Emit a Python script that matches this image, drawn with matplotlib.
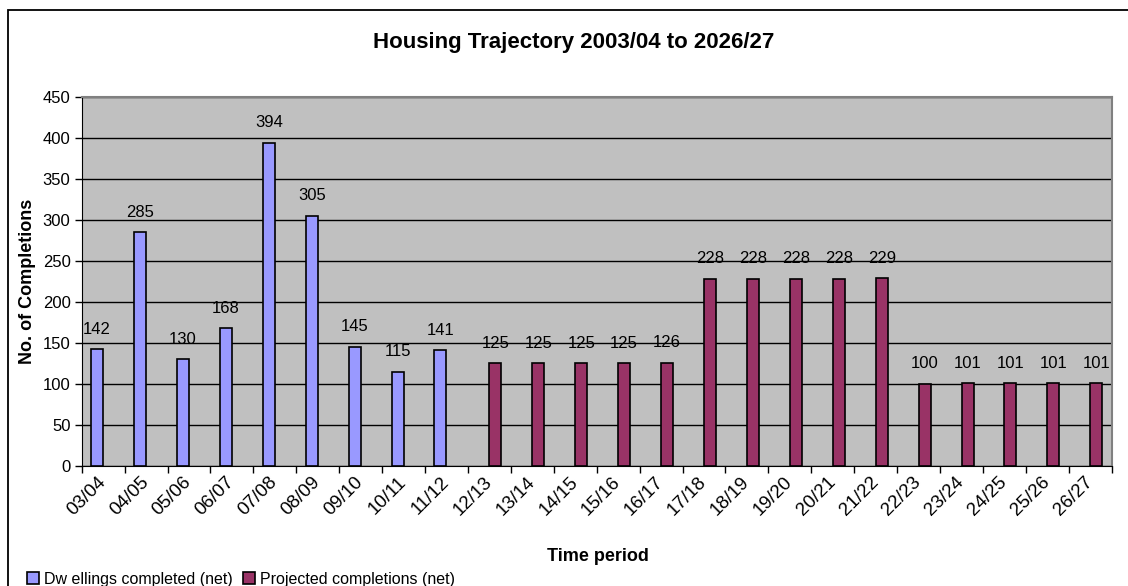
import numpy as np
import matplotlib
matplotlib.use("Agg")
import matplotlib.pyplot as plt
from matplotlib.patches import Rectangle
from matplotlib.ticker import FixedLocator, NullFormatter

plt.rcParams['font.family'] = ['Liberation Sans', 'DejaVu Sans']

periods = ["03/04", "04/05", "05/06", "06/07", "07/08", "08/09", "09/10", "10/11",
           "11/12", "12/13", "13/14", "14/15", "15/16", "16/17", "17/18", "18/19",
           "19/20", "20/21", "21/22", "22/23", "23/24", "24/25", "25/26", "26/27"]

# completed: first 9 periods, projected: the remaining 15
completed = [142, 285, 130, 168, 394, 305, 145, 115, 141]
projected = [125, 125, 125, 125, 126, 228, 228, 228, 228, 229, 100, 101, 101, 101, 101]

blue = "#9999FF"
plum = "#993366"
fs = 11.5

fg = plt.figure(figsize=(11.28, 5.86), dpi=100)
ax = fg.add_axes([0.0724, 0.2048, 0.9132, 0.6302])
ax.set_facecolor("#C0C0C0")

w = 0.28
xc = np.arange(len(completed))
xp = np.arange(len(completed), len(completed) + len(projected))
b1 = ax.bar(xc - w / 2, completed, width=w, color=blue, edgecolor="black", linewidth=1.2,
            label="Dw ellings completed (net)", zorder=3)
b2 = ax.bar(xp + w / 2, projected, width=w, color=plum, edgecolor="black", linewidth=1.2,
            label="Projected completions (net)", zorder=3)

for x, v in zip(xc - w / 2, completed):
    ax.annotate(str(v), (x, v), xytext=(0, 9), textcoords="offset points",
                ha="center", va="bottom", fontsize=fs + 0.5)
for x, v in zip(xp + w / 2, projected):
    ax.annotate(str(v), (x, v), xytext=(0, 9), textcoords="offset points",
                ha="center", va="bottom", fontsize=fs + 0.5)

ax.set_xlim(-0.5, len(periods) - 0.5)
ax.set_ylim(0, 450)
ax.set_yticks(np.arange(0, 451, 50))
ax.yaxis.grid(True, color="black", linewidth=1.0, zorder=1)
ax.set_axisbelow(True)

ax.xaxis.set_major_locator(FixedLocator(np.arange(-0.5, len(periods), 1.0)))
ax.xaxis.set_major_formatter(NullFormatter())
ax.xaxis.set_minor_locator(FixedLocator(np.arange(len(periods))))
ax.set_xticklabels(periods, minor=True, rotation=45, ha="right", va="center",
                   rotation_mode="anchor", fontsize=13.5)
ax.tick_params(axis="x", which="major", length=5, width=1, direction="out", color="black")
ax.tick_params(axis="x", which="minor", length=0, pad=10)
ax.tick_params(axis="y", length=5, width=1, direction="out", labelsize=12, pad=3)

ax.spines["left"].set_color("black")
ax.spines["bottom"].set_color("black")
ax.spines["top"].set_color("#808080")
ax.spines["right"].set_color("#808080")
ax.spines["top"].set_linewidth(1.5)
ax.spines["right"].set_linewidth(1.5)

ax.set_ylabel("No. of Completions", fontsize=13, fontweight="bold", labelpad=5)
fg.text(0.53, 0.051, "Time period", ha="center", va="center", fontsize=13, fontweight="bold")
fg.text(0.509, 0.928, "Housing Trajectory 2003/04 to 2026/27", ha="center", va="center",
        fontsize=16, fontweight="bold")

fg.legend(handles=[b1, b2], loc="lower left", bbox_to_anchor=(0.018, -0.012), ncol=2,
          frameon=False, fontsize=fs, handlelength=0.75, handleheight=0.75,
          handletextpad=0.35, columnspacing=0.6, borderaxespad=0)

# chart border running off the right and bottom of the picture
fg.patches.append(Rectangle((8 / 1128, -0.1), 1.2, 1.1 - 10 / 586,
                            transform=fg.transFigure, fill=False,
                            edgecolor="black", linewidth=1.3))

fg.savefig("out.png", dpi=100)
plt.close(fg)
